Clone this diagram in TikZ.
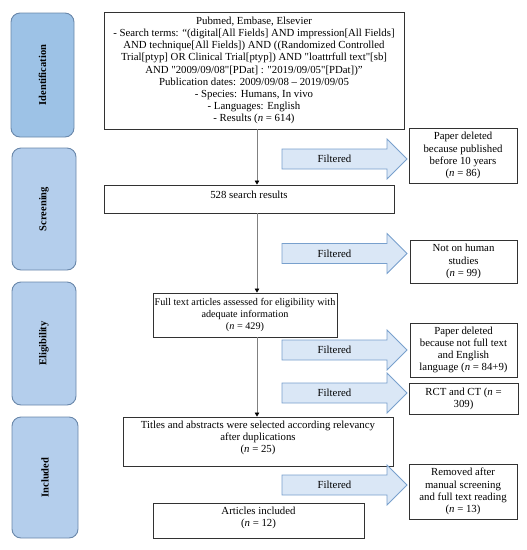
\documentclass[tikz,border=0pt]{standalone}
\usepackage{fontspec}
\setmainfont{Liberation Serif}
\usetikzlibrary{arrows.meta}

\definecolor{stageA}{RGB}{157,194,230}
\definecolor{stageB}{RGB}{180,206,236}
\definecolor{stageLine}{RGB}{105,135,170}
\definecolor{arrFill}{RGB}{218,231,246}
\definecolor{arrLine}{RGB}{120,160,205}
\definecolor{connGray}{RGB}{128,128,128}
\definecolor{boxLine}{RGB}{50,50,50}

\newcommand\filtarrow[2]{%
  \draw[filt] (282,#1-10) -- (387,#1-10) -- (387,#1-20) -- (407,#1)
     -- (387,#1+20) -- (387,#1+10) -- (282,#1+10) -- cycle;
  \node[txt] (#2) at (334.5,#1) {Filtered};}

\begin{document}
\begin{tikzpicture}[x=1pt,y=-1pt,
  txt/.style={align=center, inner sep=0pt, font=\fontsize{10.8}{12.2}\selectfont},
  box/.style={draw=boxLine, line width=0.9pt, rectangle, align=center, inner sep=0pt,
              font=\fontsize{10.8}{12.2}\selectfont},
  stage/.style={draw=stageLine, line width=0.9pt, rounded corners=9pt, fill=stageB,
                inner sep=0pt},
  stagetxt/.style={rotate=90, inner sep=0pt, font=\fontsize{10.5}{12}\selectfont\bfseries},
  flow/.style={draw=connGray, line width=0.8pt,
               -{Triangle[length=4pt,width=4.5pt,color=black]}},
  filt/.style={draw=arrLine, line width=0.8pt, fill=arrFill},
]
\useasboundingbox (0,0) rectangle (527,550);

% stages
\node[stage, fill=stageA, minimum width=63pt, minimum height=124pt] (sid) at (42.5,75) {};
\node[stagetxt] (sidT) at (sid.center) {Identification};
\node[stage, minimum width=64pt, minimum height=122pt] (sscr) at (44,209) {};
\node[stagetxt] (sscrT) at (sscr.center) {Screening};
\node[stage, minimum width=64pt, minimum height=123pt] (selig) at (44,343.5) {};
\node[stagetxt] (seligT) at (selig.center) {Eligibility};
\node[stage, minimum width=66pt, minimum height=121pt] (sinc) at (45,477.5) {};
\node[stagetxt] (sincT) at (sinc.center) {Included};

% main boxes
\node[box, minimum width=300pt, minimum height=117pt] (top) at (254,70.5) {%
Pubmed, Embase, Elsevier\\
- Search terms: “(digital[All Fields] AND impression[All Fields]\\
AND technique[All Fields]) AND ((Randomized Controlled\\
Trial[ptyp] OR Clinical Trial[ptyp]) AND \textquotedbl loattrfull text\textquotedbl[sb]\\
AND \textquotedbl 2009/09/08\textquotedbl[PDat] : \textquotedbl 2019/09/05\textquotedbl[PDat])”\\
Publication dates: 2009/09/08 – 2019/09/05\\
- Species: Humans, In vivo\\
- Languages: English\\
- Results (\textit{n} = 614)};

\node[box, minimum width=290pt, minimum height=28pt] (s528) at (249,199) {};
\node[txt] (s528T) at (249,194.5) {528 search results};

\node[box, minimum width=184pt, minimum height=44pt,
      font=\fontsize{10.2}{12.2}\selectfont] (full) at (245,315) {%
Full text articles assessed for eligibility with\\
adequate information\\
(\textit{n} = 429)};

\node[box, minimum width=270pt, minimum height=49pt] (titles) at (258,441.5) {};
\node[txt] (titlesT) at (258,438) {%
Titles and abstracts were selected according relevancy\\
after duplications\\
(\textit{n} = 25)};

\node[box, minimum width=211pt, minimum height=35pt] (incl) at (258.5,520.5) {};
\node[txt] (inclT) at (258.5,518) {Articles included\\(\textit{n} = 12)};

% exclusion boxes
\node[box, minimum width=108pt, minimum height=55pt] (ex1) at (463,155.5) {%
Paper deleted\\because published\\before 10 years\\(\textit{n} = 86)};
\node[box, minimum width=107pt, minimum height=43pt] (ex2) at (463.5,261.5) {%
Not on human\\studies\\(\textit{n} = 99)};
\node[box, minimum width=107pt, minimum height=54pt] (ex3) at (463.5,350) {%
Paper deleted\\because not full text\\and English\\language (\textit{n} = 84+9)};
\node[box, minimum width=109pt, minimum height=31pt] (ex4) at (463.5,398.5) {%
RCT and CT (\textit{n} =\\309)};
\node[box, minimum width=108pt, minimum height=55pt] (ex5) at (463,491.5) {%
Removed after\\manual screening\\and full text reading\\(\textit{n} = 13)};

% filtered block arrows
\filtarrow{159}{f1}
\filtarrow{253.5}{f2}
\filtarrow{350}{f3}
\filtarrow{393}{f4}
\filtarrow{485}{f5}

% flow connectors
\coordinate (cx) at (257,0);
\draw[flow] (top.south -| cx) -- (s528.north -| cx);
\draw[flow] (s528.south -| cx) -- (full.north -| cx);
\draw[flow] (full.south -| cx) -- (titles.north -| cx);
\end{tikzpicture}
\end{document}
